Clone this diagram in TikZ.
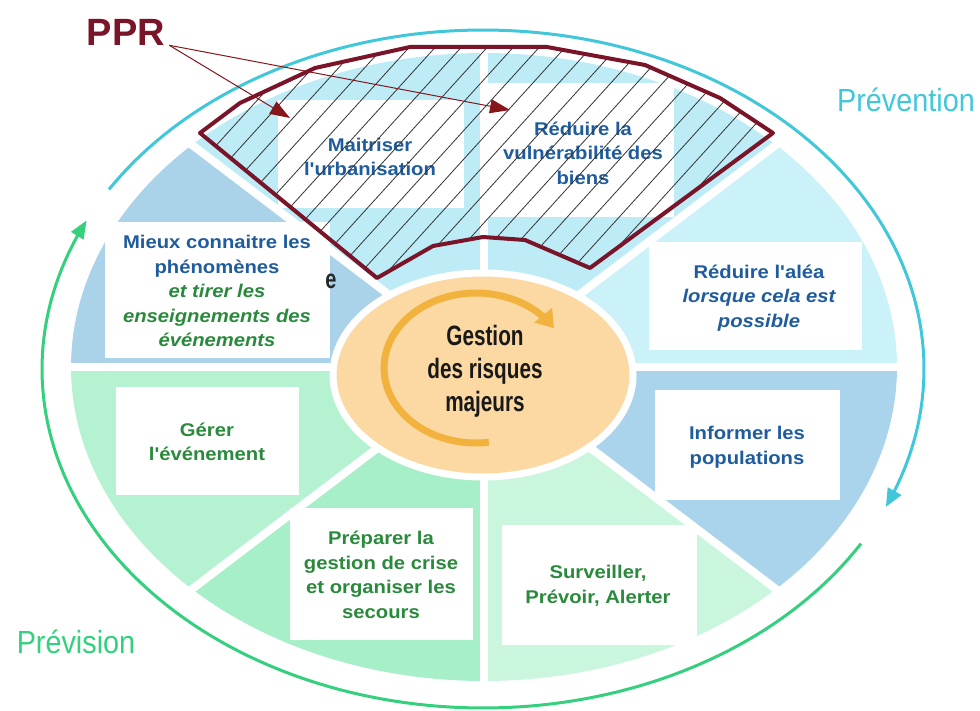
\documentclass[tikz,border=0pt]{standalone}
\usepackage{fontspec}
\setmainfont{Liberation Sans}
\newfontfamily\labfont[FakeStretch=1.1]{Liberation Sans}
\newfontfamily\condfont[FakeStretch=0.74]{Liberation Sans}
\newfontfamily\titfont[FakeStretch=0.9]{Liberation Sans}
\usetikzlibrary{arrows.meta}
\definecolor{dblue}{HTML}{1F5C9E}
\definecolor{dgreen}{HTML}{2A8A3C}
\definecolor{pprred}{HTML}{7A1428}
\definecolor{arrred}{HTML}{A81C22}
\definecolor{cyanA}{HTML}{BDECF7}
\definecolor{cyanC}{HTML}{CBF1F9}
\definecolor{blueD}{HTML}{AAD4EC}
\definecolor{greenE}{HTML}{C9F6DD}
\definecolor{greenF}{HTML}{A7EFC8}
\definecolor{greenG}{HTML}{B4F2D2}
\definecolor{blueH}{HTML}{AAD3EA}
\definecolor{orangeF}{HTML}{FCD9A2}
\definecolor{orangeA}{HTML}{F2B23E}
\definecolor{prevcyan}{HTML}{40C8DA}
\definecolor{prevgreen}{HTML}{35D07E}
\definecolor{hatchc}{HTML}{333333}
\tikzset{
  whitebox/.style={fill=white, draw=none, inner sep=0},
  lbl/.style={font=\labfont\bfseries\fontsize{18.4}{24.5}\selectfont, align=center, text=dblue, inner sep=0},
  glbl/.style={lbl, text=dgreen},
  sep/.style={white, line width=8pt},
  hatchline/.style={hatchc, line width=0.8pt},
  pprline/.style={arrred!80!black, line width=1pt, -{Triangle[length=20pt,width=14pt]}},
  outerarc/.style={line width=3pt},
}
\def\pprpath{(200,133) -- (240,103) -- (315,68) -- (410,47) -- (547,47) -- (645,65) -- (720,98) -- (773,133) -- (590,268) -- (525,240) -- (483,237) -- (433,246) -- (377,278) -- cycle}
\begin{document}
\begin{tikzpicture}[x=1pt,y=-1pt]
\useasboundingbox (0,0) rectangle (980,711);
\fill[white] (0,0) rectangle (980,711);
% wedges
\def\cx{484}\def\cy{367}\def\rx{413}\def\ry{314}
\foreach \a/\b/\c in {-135/-90/cyanA,-90/-45/cyanA,-45/0/cyanC,0/45/blueD,45/90/greenE,90/135/greenF,135/180/greenG,180/225/blueH}{
  \fill[\c] (\cx,\cy) -- plot[domain=\a:\b, samples=40] ({\cx+\rx*cos(\x)},{\cy+\ry*sin(\x)}) -- cycle;
}
\foreach \a in {0,45,...,315}{
  \draw[sep] (\cx,\cy) -- ++(\a:424 and 322.5);
}
% boxes
\node[whitebox, minimum width=186pt, minimum height=108pt] (bmait) at (371,154) {};
\node[whitebox, minimum width=186pt, minimum height=134pt] (bredv) at (581,150) {};
\node[whitebox, minimum width=225pt, minimum height=135pt] (bmieux) at (217,290) {};
\node[whitebox, minimum width=213pt, minimum height=108pt] (balea) at (755,296) {};
\node[whitebox, minimum width=183pt, minimum height=108pt] (bgerer) at (207,441) {};
\node[whitebox, minimum width=183pt, minimum height=132pt] (bprep) at (381,574) {};
\node[whitebox, minimum width=195pt, minimum height=120pt] (bsurv) at (599,585) {};
\node[whitebox, minimum width=185pt, minimum height=110pt] (binfo) at (747,445) {};
% labels
\node[lbl] (tmait) at (370,157) {Maitriser\\l'urbanisation};
\node[lbl] (tredv) at (583,153) {Réduire la\\vulnérabilité des\\biens};
\node[lbl] (tmieux) at (217,291) {Mieux connaitre les\\phénomènes\\{\color{dgreen}\itshape et tirer les}\\{\color{dgreen}\itshape enseignements des}\\{\color{dgreen}\itshape événements}};
\node[lbl] (talea) at (759,298) {Réduire l'aléa\\{\itshape lorsque cela est}\\{\itshape possible}};
\node[glbl] (tgerer) at (207,442) {Gérer\\l'événement};
\node[glbl] (tprep) at (381,575) {Préparer la\\gestion de crise\\et organiser les\\secours};
\node[glbl] (tsurv) at (598,586) {Surveiller,\\Prévoir, Alerter};
\node[lbl] (tinfo) at (747,447) {Informer les\\populations};
\node[font=\condfont\bfseries\fontsize{27}{33}\selectfont, text=black!85, inner sep=0] (estray) at (331,281) {e};
% center
\fill[orangeF, draw=white, line width=7pt] (483,375) ellipse [x radius=150, y radius=102];
\draw[orangeA, line width=7pt, -{Triangle[length=17pt,width=22pt]}] plot[domain=82:328, samples=60] ({476+92*cos(\x)},{368+75*sin(\x)});
\node[font=\condfont\bfseries\fontsize{28}{33}\selectfont, align=center, text=black!90, inner sep=0] (gestion) at (485,371) {Gestion\\des risques\\majeurs};
% PPR zone
\begin{scope}
  \clip \pprpath;
  \foreach \i in {0,...,40}{
    \draw[hatchline] ({\i*26-80},300) -- ++(254,-280);
  }
\end{scope}
\draw[pprred, line width=4pt, line join=round] \pprpath;
% outer arcs
\draw[outerarc, prevcyan, -{Triangle[length=18pt,width=15pt]}] plot[domain=-148:24, samples=120] ({483+441*cos(\x)},{369+339*sin(\x)});
\draw[outerarc, prevgreen, -{Triangle[length=18pt,width=14pt]}] plot[domain=31:206, samples=120] ({483+441*cos(\x)},{369+339*sin(\x)});
\node[font=\titfont\fontsize{32}{36}\selectfont, text=prevcyan, inner sep=0] (prevention) at (906,100) {Prévention};
\node[font=\titfont\fontsize{32}{36}\selectfont, text=prevgreen, inner sep=0] (prevision) at (76,642) {Prévision};
% PPR label and arrows
\node[font=\bfseries\fontsize{38}{40}\selectfont, text=pprred, inner sep=0] (ppr) at (126,32) {PPR};
\coordinate (tip1) at (290,118);
\coordinate (tip2) at (510,110);
\draw[pprline] ([xshift=4pt]ppr.south east) -- (tip1);
\draw[pprline] ([xshift=4pt]ppr.south east) -- (tip2);
\end{tikzpicture}
\end{document}
